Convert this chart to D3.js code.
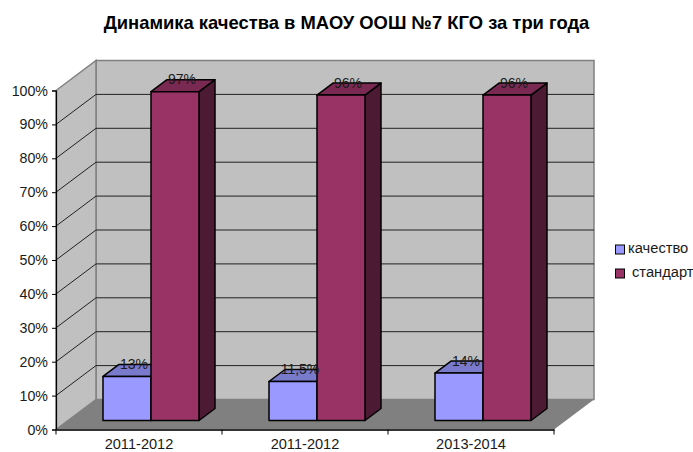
<!DOCTYPE html>
<html>
<head>
<meta charset="utf-8">
<script src="https://cdn.jsdelivr.net/npm/d3@7"></script>
<style>
  html, body { margin: 0; background: #fff; overflow: hidden; }
  text { font-family: "Liberation Sans", Arial, sans-serif; fill: #1a1a1a; }
</style>
</head>
<body>
<div id="chart"></div>
<script>
// 1: DATA
const years = ["2011-2012", "2011-2012", "2013-2014"];
const seriesNames = ["качество", "стандарт"];
const kachestvo = [13, 11.5, 14];
const standart = [97, 96, 96];
const labelsKachestvo = ["13%", "11,5%", "14%"];
const labelsStandart = ["97%", "96%", "96%"];
const yTicks = [0, 10, 20, 30, 40, 50, 60, 70, 80, 90, 100];

// 2: SIZES
const width = 693, height = 452;
const depthX = 40, depthY = -30;    // offset of the back wall from the front plane
const barOffset = 0.3, barDepth = 0.4;  // position in depth, as part of the whole depth
const barWidth = 48;

const colors = {
    "качество": { front: "#9999ff", top: "#7a7acc", side: "#4d4d80" },
    "стандарт": { front: "#993366", top: "#7a2952", side: "#4d1a33" }
};

const svg = d3.select("#chart")
    .append("svg")
    .attr("width", width)
    .attr("height", height);

// 3: SCALES
const xScale = d3.scaleBand()
    .domain(d3.range(years.length))
    .range([56, 554]);

const yScale = d3.scaleLinear()
    .domain([0, 100])
    .range([429.5, 90.5]);

const x0 = xScale.range()[0], x1 = xScale.range()[1];
const y0 = yScale(0), y100 = yScale(100);

// point in the 3d box, depth 0 = front plane, depth 1 = back wall
const pt = (x, y, depth) => [x + depth * depthX, y + depth * depthY];
const poly = pts => pts.map(p => p.join(",")).join(" ");

// 4: WALLS AND FLOOR
svg.append("polygon")
    .attr("points", poly([pt(x0, y0, 1), pt(x1, y0, 1), pt(x1, y100, 1), pt(x0, y100, 1)]))
    .attr("fill", "#c0c0c0")
    .attr("stroke", "#808080")
    .attr("stroke-width", 1.5);

svg.append("polygon")
    .attr("points", poly([pt(x0, y0, 0), pt(x0, y0, 1), pt(x0, y100, 1), pt(x0, y100, 0)]))
    .attr("fill", "#c0c0c0")
    .attr("stroke", "#808080")
    .attr("stroke-width", 1.5);

svg.append("polygon")
    .attr("points", poly([pt(x0, y0, 0), pt(x1, y0, 0), pt(x1, y0, 1), pt(x0, y0, 1)]))
    .attr("fill", "#808080");

// 5: GRIDLINES
yTicks.filter(d => d > 0).forEach(d => {
    const a = pt(x0, yScale(d), 0), b = pt(x0, yScale(d), 1), c = pt(x1, yScale(d), 1);
    svg.append("polyline")
        .attr("points", poly(d === 100 ? [b, c] : [a, b, c]))
        .attr("fill", "none")
        .attr("stroke", d === 100 ? "#808080" : "#222")
        .attr("stroke-width", 1);
});

// 6: BARS
function drawBar(i, value, name, shift) {
    const left = xScale(i) + xScale.bandwidth() / 2 - barWidth + shift * barWidth;
    const right = left + barWidth;
    const top = yScale(value), base = yScale(0);
    const d1 = barOffset, d2 = barOffset + barDepth;
    const c = colors[name];
    const g = svg.append("g")
        .attr("stroke", "#000")
        .attr("stroke-width", 1.5)
        .attr("stroke-linejoin", "round");
    g.append("polygon")
        .attr("points", poly([pt(right, base, d1), pt(right, base, d2), pt(right, top, d2), pt(right, top, d1)]))
        .attr("fill", c.side);
    g.append("polygon")
        .attr("points", poly([pt(left, top, d1), pt(right, top, d1), pt(right, top, d2), pt(left, top, d2)]))
        .attr("fill", c.top);
    g.append("polygon")
        .attr("points", poly([pt(left, base, d1), pt(right, base, d1), pt(right, top, d1), pt(left, top, d1)]))
        .attr("fill", c.front);
}

years.forEach((y, i) => {
    drawBar(i, kachestvo[i], seriesNames[0], 0);
    drawBar(i, standart[i], seriesNames[1], 1);
});

// 7: DATA LABELS
function drawLabel(i, value, label, shift) {
    const left = xScale(i) + xScale.bandwidth() / 2 - barWidth + shift * barWidth;
    const p = pt(left + barWidth / 2, yScale(value), barOffset + barDepth / 2);
    svg.append("text")
        .attr("x", p[0] - 1)
        .attr("y", p[1] - 1.5)
        .attr("text-anchor", "middle")
        .style("font-size", "14px")
        .text(label);
}

years.forEach((y, i) => {
    drawLabel(i, kachestvo[i], labelsKachestvo[i], 0);
    drawLabel(i, standart[i], labelsStandart[i], 1);
});

// 8: AXES
const yAxis = d3.axisLeft(yScale)
    .tickValues(yTicks)
    .tickSize(4)
    .tickPadding(4)
    .tickFormat(d => d + "%");

const gy = svg.append("g")
    .attr("transform", `translate(${x0},0)`)
    .call(yAxis);
gy.select(".domain").attr("stroke", "#000").attr("stroke-width", 1.2);
gy.selectAll("text").style("font-size", "14.2px").style("font-family", null);

const xAxis = d3.axisBottom(xScale)
    .tickSize(0)
    .tickPadding(9)
    .tickFormat(i => years[i]);

const gx = svg.append("g")
    .attr("transform", `translate(0,${y0})`)
    .call(xAxis);
gx.select(".domain").attr("stroke", "#333").attr("stroke-width", 2);
gx.selectAll("text").style("font-size", "14.6px").style("font-family", null);

d3.range(years.length + 1).forEach(i => {
    const x = x0 + i * xScale.step();
    svg.append("line")
        .attr("x1", x).attr("x2", x)
        .attr("y1", y0).attr("y2", y0 + 5)
        .attr("stroke", "#000");
});

// 9: TITLE
svg.append("text")
    .attr("x", 346.5)
    .attr("y", 29)
    .attr("text-anchor", "middle")
    .style("font-size", "18.4px")
    .style("font-weight", "bold")
    .style("fill", "#000")
    .text("Динамика качества в МАОУ ООШ №7 КГО за три года");

// 10: LEGEND
const legendY = [249.5, 273.5];
const legendTextX = [628, 632];
seriesNames.forEach((name, i) => {
    svg.append("rect")
        .attr("x", 615.5)
        .attr("y", legendY[i] - 4.5)
        .attr("width", 9)
        .attr("height", 9)
        .attr("fill", colors[name].front)
        .attr("stroke", "#000");
    svg.append("text")
        .attr("x", legendTextX[i])
        .attr("y", legendY[i] + 3)
        .style("font-size", "14.7px")
        .text(name);
});
</script>
</body>
</html>
